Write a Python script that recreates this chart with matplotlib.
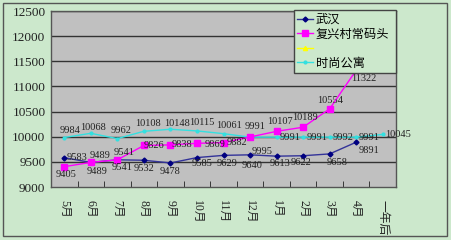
import matplotlib
matplotlib.use("Agg")
import matplotlib.pyplot as plt
from matplotlib.lines import Line2D
from matplotlib.patches import Rectangle

categories = ["5月", "6月", "7月", "8月", "9月", "10月", "11月", "12月",
              "1月", "2月", "3月", "4月", "一年后"]
wuhan = [9583, 9489, 9541, 9532, 9478, 9585, 9629, 9640, 9613, 9622, 9658, 9891, None]
fuxing = [9405, 9489, 9541, 9826, 9838, 9869, 9882, 9995, 10107, 10189, 10554, 11322, None]
shishang = [9984, 10068, 9962, 10108, 10148, 10115, 10061, 9991, 9991, 9991, 9992, 9991, 10045]
series_names = ["武汉", "复兴村常码头", "", "时尚公寓"]
y_ticks = [9000, 9500, 10000, 10500, 11000, 11500, 12000, 12500]

# label offsets in pixels (style only)
off_wuhan = [(13, 0), (9, 7), (7, 7), (0, -8), (0, -9), (5, -6), (4, -8), (2, -11),
             (3, -7), (-2, -7), (7, -9), (13, -8), None]
off_fuxing = [(2, -8), (6, -9), (5, -8), (10, 0), (12, 0), (18, -1), (13, 0), (12, -15),
              (3, 10), (2, 10), (0, 8), (8, -8), None]
off_shishang = [(6, 7), (2, 6), (4, 8), (4, 8), (7, 6), (5, 8), (6, 8), (5, 11),
                (13, 0), (14, 0), (13, 0), (13, 0), (15, 0)]

BG = "#cce8cc"
PLOT = "#c0c0c0"
serif = ["Liberation Serif", "Noto Sans CJK SC"]

fig = plt.figure(figsize=(4.52, 2.40), dpi=100, facecolor=BG)
ax = fig.add_axes([51 / 452, 1 - 187 / 240, 345 / 452, 176 / 240])
ax.set_facecolor(PLOT)
fig.patches.append(Rectangle((3 / 452, 4 / 240), 444 / 452, 233 / 240, transform=fig.transFigure,
                             fill=False, edgecolor="#555555", linewidth=1.0))

x = list(range(len(categories)))

def draw(vals, color, mcolor, marker, ms, offs):
    xs = [i for i, v in zip(x, vals) if v is not None]
    ys = [v for v in vals if v is not None]
    ax.plot(xs, ys, color=color, marker=marker, markersize=ms, markerfacecolor=mcolor,
            markeredgecolor=mcolor, linewidth=1.0, zorder=3)
    for i, v in zip(xs, ys):
        dx, dy = offs[i]
        ax.annotate(str(v), (i, v), xytext=(dx, dy), textcoords="offset pixels",
                    ha="center", va="center", fontsize=7.5, family=serif,
                    color="#222222", zorder=5)

draw(shishang, "#33e0e0", "#33e0e0", "o", 2, off_shishang)
draw(wuhan, "#333399", "#000080", "D", 2.5, off_wuhan)
draw(fuxing, "#ff00ff", "#ff00ff", "s", 5, off_fuxing)

ax.set_xlim(-0.5, len(categories) - 0.5)
ax.set_ylim(9000, 12500)
ax.set_yticks(y_ticks)
ax.set_yticklabels([str(t) for t in y_ticks], family=serif, fontsize=9.5, color="#222222")
ax.tick_params(axis="y", length=0, pad=4)
ax.set_xticks(x)
ax.set_xticklabels(categories, rotation=270, family=serif, fontsize=8.5, color="#222222",
                   va="top", ha="center")
ax.set_xticks([i + 0.5 for i in x], minor=True)
ax.tick_params(axis="x", which="major", length=0, pad=9)
ax.tick_params(axis="x", which="minor", length=4, direction="in", color="#222222")
for t in y_ticks[1:]:
    ax.axhline(t, color="#333333", linewidth=1.0, zorder=1)
for s in ax.spines.values():
    s.set_color("#555555")
    s.set_linewidth(1.0)

handles = [
    Line2D([], [], color="#333399", marker="D", markersize=2.5, markerfacecolor="#000080",
           markeredgecolor="#000080", linewidth=1.0),
    Line2D([], [], color="#ff00ff", marker="s", markersize=5, markerfacecolor="#ff00ff",
           markeredgecolor="#ff00ff", linewidth=1.0),
    Line2D([], [], color="#ffff00", marker="^", markersize=3, markerfacecolor="#ffff00",
           markeredgecolor="#ffff00", linewidth=1.0),
    Line2D([], [], color="#33e0e0", marker="o", markersize=2, markerfacecolor="#33e0e0",
           markeredgecolor="#33e0e0", linewidth=1.0),
]
leg = ax.legend(handles, series_names, loc="upper left",
                bbox_to_anchor=(294 / 452, 1 - 72 / 240, 102 / 452, 62 / 240),
                bbox_transform=fig.transFigure, mode="expand",
                prop={"family": ["Noto Sans CJK SC", "DejaVu Sans"], "size": 8.8},
                frameon=True, fancybox=False, borderpad=0.25, labelspacing=0.12,
                handlelength=1.3, handletextpad=0.25, borderaxespad=0)
leg.get_frame().set_facecolor(BG)
leg.get_frame().set_edgecolor("#444444")
leg.get_frame().set_alpha(1)
leg.set_zorder(10)

fig.savefig("out.png", dpi=100, facecolor=BG)
